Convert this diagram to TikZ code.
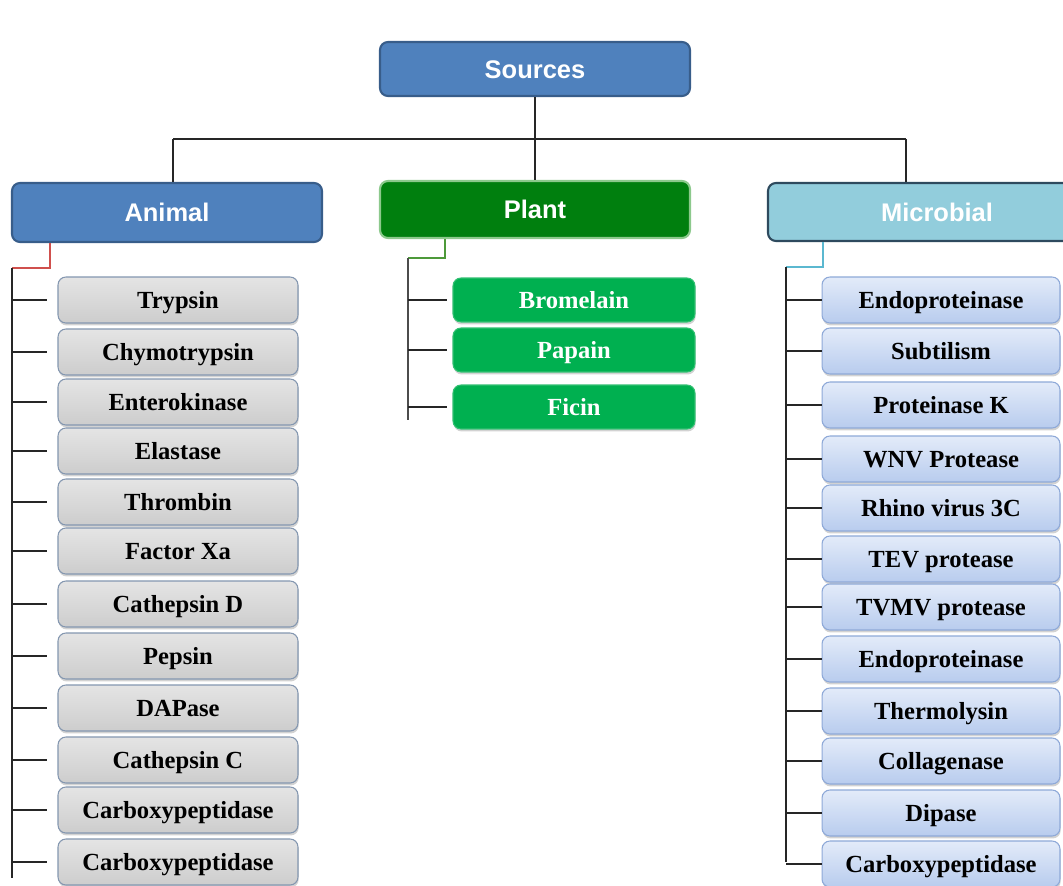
\documentclass[tikz,border=0pt]{standalone}
\usepackage{fontspec}
\setmainfont{Liberation Serif}
\newfontfamily\hdfont{Liberation Sans}
\usetikzlibrary{shadows}

\definecolor{hdblue}{HTML}{4F81BD}
\definecolor{hdblueline}{HTML}{385D8A}
\definecolor{hdgreen}{HTML}{007F0E}
\definecolor{hdgreenline}{HTML}{8CC98C}
\definecolor{hdteal}{HTML}{92CDDC}
\definecolor{hdtealline}{HTML}{2E4A5E}
\definecolor{itgreen}{HTML}{00B050}
\definecolor{itgraytop}{HTML}{E4E4E4}
\definecolor{itgraybot}{HTML}{CDCDCD}
\definecolor{itgrayline}{HTML}{8497B0}
\definecolor{itbluetop}{HTML}{E3EBF9}
\definecolor{itbluebot}{HTML}{B8CCEE}
\definecolor{itblueline}{HTML}{8EA9D8}
\definecolor{elbred}{HTML}{D0504D}
\definecolor{elbgreen}{HTML}{4E9A3A}
\definecolor{elbblue}{HTML}{5BB8D0}

\begin{document}
\begin{tikzpicture}[x=0.02cm, y=-0.02cm,
	hd/.style={draw, line width=1.2pt, rounded corners=4.5pt, text=white,
		font=\hdfont\bfseries\fontsize{14.5}{16}\selectfont, minimum width=6.2cm,
		text height=10.4pt, text depth=0pt},
	item/.style={draw, line width=0.6pt, rounded corners=4.5pt, minimum height=0.92cm,
		font=\bfseries\fontsize{14}{16}\selectfont, text height=9.4pt, text depth=0pt,
		drop shadow={opacity=0.35, shadow xshift=0.4pt, shadow yshift=-1.4pt}},
	grayitem/.style={item, draw=itgrayline, top color=itgraytop, bottom color=itgraybot, minimum width=4.8cm},
	greenitem/.style={item, draw=itgreen!80!white, fill=itgreen, text=white, minimum width=4.84cm, minimum height=0.88cm},
	blueitem/.style={item, draw=itblueline, top color=itbluetop, bottom color=itbluebot, minimum width=4.76cm},
	trunk/.style={line width=0.8pt, black!85}]

\clip (0,0) rectangle (1063,886);
\fill[white] (0,0) rectangle (1063,886);

% top box
\node[hd, fill=hdblue, draw=hdblueline, minimum height=1.08cm] (src) at (535,69) {Sources};

% heading boxes
\node[hd, fill=hdblue, draw=hdblueline, minimum height=1.18cm] (ani) at (167,212.5) {Animal};
\node[hd, fill=hdgreen, draw=hdgreenline, minimum height=1.14cm] (pla) at (535,209.5) {Plant};
\node[hd, fill=hdteal, draw=hdtealline, minimum height=1.16cm, minimum width=6.76cm] (mic) at (937,212) {Microbial};

% top connectors
\coordinate (barL) at (173,139);
\coordinate (barR) at (906,139);
\draw[trunk] (src.south) -- (pla.north);
\draw[trunk] (barL) -- (barR);
\draw[trunk] (barL) -- (barL |- ani.north);
\draw[trunk] (barR) -- (barR |- mic.north);

% animal sources
\node[grayitem] (a1) at (178,300) {Trypsin};
\node[grayitem] (a2) at (178,352) {Chymotrypsin};
\node[grayitem] (a3) at (178,402) {Enterokinase};
\node[grayitem] (a4) at (178,451) {Elastase};
\node[grayitem] (a5) at (178,502) {Thrombin};
\node[grayitem] (a6) at (178,551) {Factor Xa};
\node[grayitem] (a7) at (178,604) {Cathepsin D};
\node[grayitem] (a8) at (178,656) {Pepsin};
\node[grayitem] (a9) at (178,708) {DAPase};
\node[grayitem] (a10) at (178,760) {Cathepsin C};
\node[grayitem] (a11) at (178,810) {Carboxypeptidase};
\node[grayitem] (a12) at (178,862) {Carboxypeptidase};

\coordinate (aK) at (50,268);
\coordinate (aTop) at (12,268);
\coordinate (aBot) at (12,878);
\draw[elbred, line width=0.8pt] (aK |- ani.south) -- (aK) -- (aTop);
\draw[trunk] (aTop) -- (aBot);
\foreach \n in {a1,a2,a3,a4,a5,a6,a7,a8,a9,a10,a11,a12}
	\draw[trunk, shorten >=0.2cm] (aTop |- \n) -- (\n.west);

% plant sources
\node[greenitem] (p1) at (574,300) {Bromelain};
\node[greenitem] (p2) at (574,350) {Papain};
\node[greenitem] (p3) at (574,407) {Ficin};

\coordinate (pK) at (445,258);
\coordinate (pTop) at (408,258);
\coordinate (pBot) at (408,420);
\draw[elbgreen, line width=0.8pt] (pK |- pla.south) -- (pK) -- (pTop);
\draw[trunk, black!70] (pTop) -- (pBot);
\foreach \n in {p1,p2,p3}
	\draw[trunk, shorten >=0.12cm] (pTop |- \n) -- (\n.west);

% microbial sources
\node[blueitem] (m1) at (941,300) {Endoproteinase};
\node[blueitem] (m2) at (941,351) {Subtilism};
\node[blueitem] (m3) at (941,405) {Proteinase K};
\node[blueitem] (m4) at (941,459) {WNV Protease};
\node[blueitem] (m5) at (941,508) {Rhino virus 3C};
\node[blueitem] (m6) at (941,559) {TEV protease};
\node[blueitem] (m7) at (941,607) {TVMV protease};
\node[blueitem] (m8) at (941,659) {Endoproteinase};
\node[blueitem] (m9) at (941,711) {Thermolysin};
\node[blueitem] (m10) at (941,761) {Collagenase};
\node[blueitem] (m11) at (941,813) {Dipase};
\node[blueitem] (m12) at (941,864) {Carboxypeptidase};

\coordinate (mK) at (823,267);
\coordinate (mTop) at (786,267);
\coordinate (mBot) at (786,862);
\draw[elbblue, line width=0.8pt] (mK |- mic.south) -- (mK) -- (mTop);
\draw[trunk] (mTop) -- (mBot);
\foreach \n in {m1,m2,m3,m4,m5,m6,m7,m8,m9,m10,m11,m12}
	\draw[trunk] (mTop |- \n) -- (\n.west);

\end{tikzpicture}
\end{document}
